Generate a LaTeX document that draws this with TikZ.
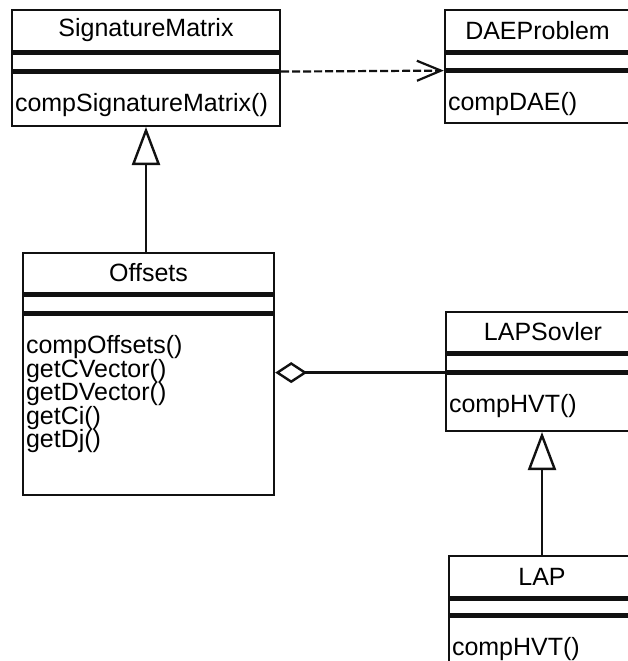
\documentclass[tikz,border=0pt]{standalone}
\usepackage{fontspec}
\setmainfont{Liberation Sans}
\usepackage{tikz}
\usetikzlibrary{arrows.meta,positioning}
\definecolor{UmlInk}{HTML}{111111}
\newcommand\umlfont{\fontsize{25}{23.5}\selectfont}

\begin{document}
\begin{tikzpicture}[x=1pt,y=-1pt,
    clsname/.style={draw=UmlInk,line width=2.4pt,inner sep=0pt,minimum width=#1,minimum height=41pt,font=\umlfont},
    clsattr/.style={draw=UmlInk,line width=2.4pt,inner sep=0pt,minimum width=#1,minimum height=17pt},
    clsops/.style={draw=UmlInk,line width=2.4pt,inner xsep=3pt,inner ysep=0pt,text width=#1,align=left,text height=39pt,font=\umlfont},
    depend/.style={UmlInk,line width=2.2pt,dash pattern=on 8pt off 3pt,-{Straight Barb[length=24pt,width=20pt]}},
    inherit/.style={UmlInk,line width=2.4pt,-{Triangle[open,length=38pt,width=28pt]}},
    aggr/.style={UmlInk,line width=2.4pt,-{Diamond[open,length=32pt,width=21pt]}}]
        \useasboundingbox (0,0) rectangle (628,661);
        \clip (0,0) rectangle (628,661);
        \node[clsname=268pt] (sm) at (146,30.5) {SignatureMatrix};
        \node[clsattr=268pt,below=0pt of sm] (sma) {};
        \node[clsops=262pt,text depth=14pt,below=0pt of sma] (smo) {compSignatureMatrix()};
        \node[clsname=185pt] (dae) at (537.5,30.5) {DAEProblem};
        \node[clsattr=185pt,minimum height=16pt,below=0pt of dae] (daea) {};
        \node[clsops=179pt,text depth=12pt,below=0pt of daea] (daeo) {compDAE()};
        \node[clsname=251pt,minimum height=40pt] (off) at (148.5,273) {Offsets};
        \node[clsattr=251pt,below=0pt of off] (offa) {};
        \node[clsops=245pt,text depth=141pt,below=0pt of offa] (offo) {compOffsets()\\getCVector()\\getDVector()\\getCi()\\getDj()};
        \node[clsname=194pt,minimum height=40pt] (lsv) at (543,332) {LAPSovler};
        \node[clsattr=194pt,below=0pt of lsv] (lsva) {};
        \node[clsops=188pt,text depth=18pt,below=0pt of lsva] (lsvo) {compHVT()};
        \node[clsname=186pt] (lap) at (542,576.5) {LAP};
        \node[clsattr=186pt,minimum height=15pt,below=0pt of lap] (lapa) {};
        \node[clsops=180pt,text depth=9pt,below=0pt of lapa] (lapo) {compHVT()};
        \draw[depend] (sma.south east) -- (daea.south west);
        \draw[inherit] (smo.south |- off.north) -- (smo.south);
        \draw[aggr] (lsva.south west) -- (lsva.south west -| offo.east);
        \draw[inherit] (lap.north) -- (lap.north |- lsvo.south);
      \end{tikzpicture}
\end{document}
